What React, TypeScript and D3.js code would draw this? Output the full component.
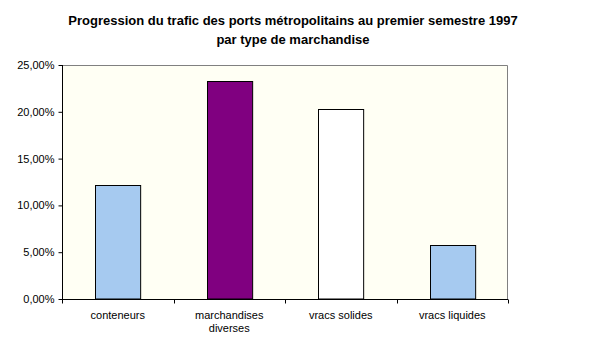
import React, { useEffect, useRef } from 'react';
import * as d3 from 'd3';

const categories = ['conteneurs', 'marchandises diverses', 'vracs solides', 'vracs liquides'];
const values = [12.15, 23.25, 20.35, 5.75];
const barColors = ['#A6CAF0', '#800080', '#FFFFFF', '#A6CAF0'];
const yTicks = [0, 5, 10, 15, 20, 25];
const titleLines = [
  'Progression du trafic des ports métropolitains au premier semestre 1997',
  'par type de marchandise',
];

const App = () => {
  const ref = useRef<SVGSVGElement | null>(null);

  useEffect(() => {
    const svg = d3.select(ref.current);
    svg.selectAll('*').remove();

    const width = 589;
    const height = 352;
    const margin = { top: 65, right: 81, bottom: 53, left: 62 };
    const w = width - margin.left - margin.right;
    const h = height - margin.top - margin.bottom;

    svg.attr('width', width).attr('height', height).style('font-family', 'Liberation Sans, Arial, sans-serif');

    // Title
    svg.append('g')
      .selectAll('text')
      .data(titleLines)
      .join('text')
      .attr('x', 293)
      .attr('y', (d, i) => 25 + i * 19)
      .attr('text-anchor', 'middle')
      .style('font-size', '13px')
      .style('font-weight', 'bold')
      .text((d) => d);

    const g = svg.append('g').attr('transform', `translate(${margin.left},${margin.top})`);

    const x = d3.scaleBand().domain(categories).range([0, w]).padding(0);
    const y = d3.scaleLinear().domain([0, 25]).range([h, 0]);

    // Plot background
    g.append('rect')
      .attr('width', w)
      .attr('height', h)
      .attr('fill', '#FFFFF4');
    g.append('path')
      .attr('d', `M0,0.5H${w - 0.5}V${h}`)
      .attr('fill', 'none')
      .attr('stroke', '#808080');

    // Bars
    const bw = x.bandwidth() * 0.405;
    g.selectAll('rect.bar')
      .data(values)
      .join('rect')
      .attr('class', 'bar')
      .attr('x', (d, i) => Math.round(x(categories[i])! + x.bandwidth() / 2 - bw / 2) + 0.5)
      .attr('y', (d) => Math.round(y(d)) + 0.5)
      .attr('width', bw)
      .attr('height', (d) => h - Math.round(y(d)) - 0.5)
      .attr('fill', (d, i) => barColors[i])
      .attr('stroke', '#000')
      .attr('stroke-width', 1);

    // Y axis
    const yAxis = g.append('g')
      .attr('transform', 'translate(0.5,0)')
      .call(
        d3.axisLeft(y)
          .tickValues(yTicks)
          .tickSize(4)
          .tickFormat((d) => `${(+d).toFixed(2).replace('.', ',')}%`)
      );
    yAxis.select('.domain').attr('stroke', '#000').attr('d', `M0,0V${h}`);
    yAxis.selectAll('text').style('font-size', '11px').style('font-family', 'Liberation Sans, Arial, sans-serif').attr('x', -8);

    // X axis
    const xAxis = g.append('g').attr('transform', `translate(0,${h + 0.5})`);
    xAxis.append('line').attr('x1', 0).attr('x2', w).attr('stroke', '#000');
    xAxis.selectAll('line.tick')
      .data(d3.range(categories.length + 1))
      .join('line')
      .attr('class', 'tick')
      .attr('x1', (d) => Math.round(d * x.step()) + 0.5)
      .attr('x2', (d) => Math.round(d * x.step()) + 0.5)
      .attr('y1', 0)
      .attr('y2', 4)
      .attr('stroke', '#000');

    const labels = xAxis.selectAll('text')
      .data(categories)
      .join('text')
      .attr('x', (d) => x(d)! + x.bandwidth() / 2)
      .attr('y', 19)
      .attr('text-anchor', 'middle')
      .style('font-size', '11px');
    labels.each(function (d) {
      const words = d === 'marchandises diverses' ? ['marchandises', 'diverses'] : [d];
      d3.select(this)
        .selectAll('tspan')
        .data(words)
        .join('tspan')
        .attr('x', x(d)! + x.bandwidth() / 2)
        .attr('dy', (_, i) => (i === 0 ? 0 : 13))
        .text((t) => t);
    });
  }, []);

  return <svg ref={ref} style={{ display: 'block', position: 'absolute', left: 0, top: 0 }}></svg>;
};

export default App;
